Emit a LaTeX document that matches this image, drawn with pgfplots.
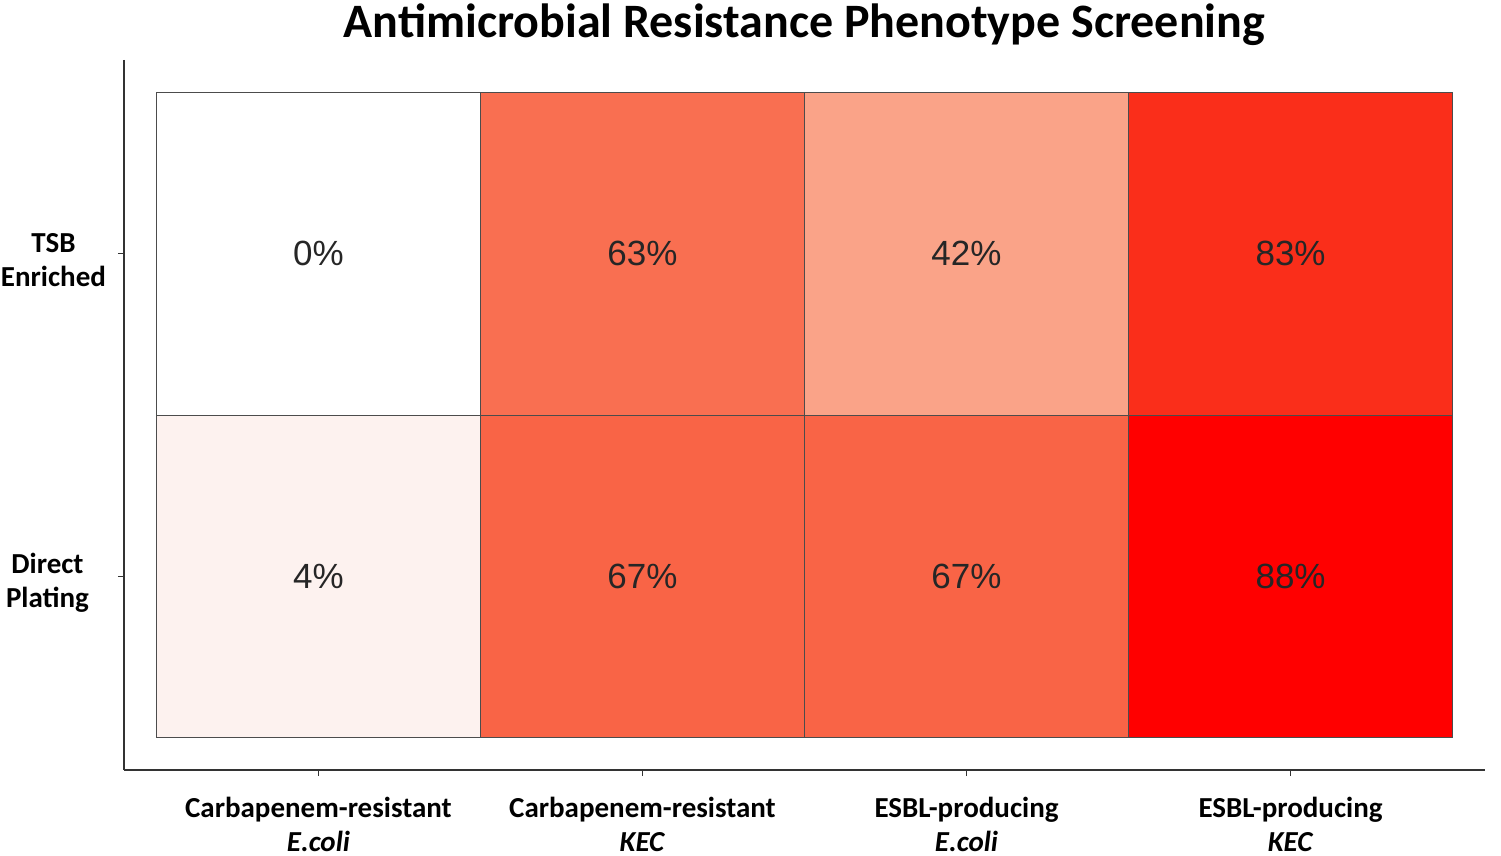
\documentclass[border=0pt]{standalone}
\usepackage{pgfplots}
\pgfplotsset{compat=1.18}
\usepackage{fontspec}
\setmainfont{Carlito}
\newfontfamily\cellfont{Liberation Sans}

% y=0 is the top row (matrix plot turns the y axis round)
\pgfplotstableread{
x y pct
0 0 0
1 0 63
2 0 42
3 0 83
0 1 4
1 1 67
2 1 67
3 1 88
}\amrdata

\begin{document}
\begin{tikzpicture}
\begin{axis}[
    scale only axis,
    width=680.5pt,
    height=355pt,
    xmin=-0.6, xmax=3.6,
    ymin=-0.6, ymax=1.6,
    axis lines=left,
    axis line style={-, black!80, line width=1pt},
    tick align=outside,
    major tick length=3pt,
    tick style={black!80, line width=0.6pt},
    xtick={0,1,2,3},
    xticklabels={{Carbapenem-resistant\\\textit{E.coli}},
                 {Carbapenem-resistant\\\textit{KEC}},
                 {ESBL-producing\\\textit{E.coli}},
                 {ESBL-producing\\\textit{KEC}}},
    ytick={0},
    yticklabels={{TSB\\Enriched}},
    extra y ticks={1},
    extra y tick labels={{Direct\\Plating}},
    extra y tick style={yticklabel style={xshift=-8.5pt}},
    ticklabel style={align=center, font=\fontsize{14.5}{17}\selectfont\bfseries},
    xticklabel style={yshift=-7pt},
    yticklabel style={xshift=-2.5pt, yshift=-3pt},
    title={Antimicrobial Resistance Phenotype Screening},
    title style={font=\fontsize{24}{28}\selectfont\bfseries, at={(0.5,1)}, anchor=base, yshift=5pt},
    colormap={amr}{rgb255(0pt)=(255,255,255) rgb255(4pt)=(253,242,239)
        rgb255(42pt)=(250,163,136) rgb255(63pt)=(249,111,81)
        rgb255(67pt)=(249,100,70) rgb255(83pt)=(250,46,26) rgb255(88pt)=(255,0,0)},
    point meta min=0, point meta max=88,
]
\addplot[matrix plot, faceted color=black!70, draw=black!70, line width=0.5pt,
    mesh/cols=4, mesh/rows=2, point meta=explicit]
    table[x=x, y=y, meta=pct] {\amrdata};
\addplot[only marks, mark=none, point meta=explicit,
    nodes near coords={\pgfmathprintnumber[assume math mode=true]{\pgfplotspointmeta}\%},
    every node near coord/.append style={anchor=center, font=\cellfont\fontsize{17.5}{20}\selectfont, text=black!85}]
    table[x=x, y=y, meta=pct] {\amrdata};
\coordinate (bl) at (rel axis cs:0,0);
\end{axis}
\pgfresetboundingbox
\path (bl) ++(-62pt,-43pt) rectangle ++(750.5pt,428pt);
\end{tikzpicture}
\end{document}
